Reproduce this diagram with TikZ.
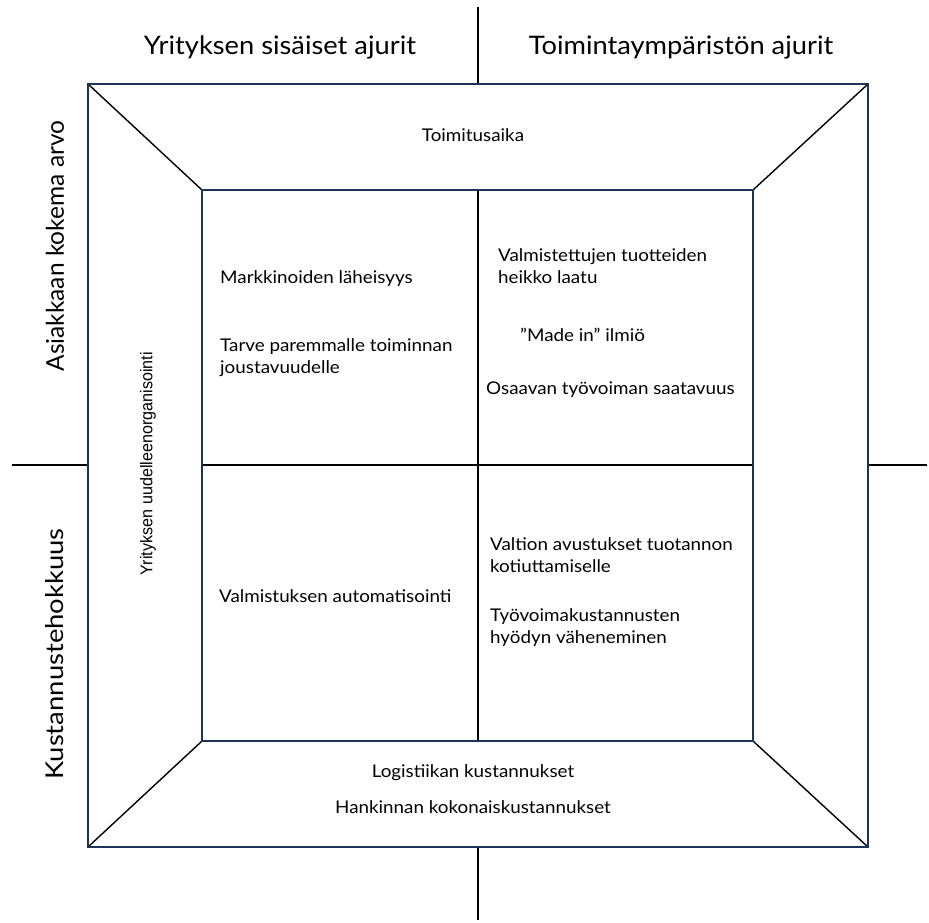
\documentclass[tikz,border=0pt]{standalone}
\usepackage{fontspec}
\setmainfont[FakeStretch=1.075]{Lato}
\newfontfamily\headfont[FakeStretch=1.07]{Lato}
\newfontfamily\plainfont{Lato}
\newfontfamily\widefont[FakeStretch=1.12]{Lato}
\newfontfamily\narrowfont[FakeStretch=0.95]{Liberation Sans}
\definecolor{navy}{HTML}{1F3358}
\tikzset{
  frame/.style={draw=navy, line width=1.6pt},
  axis/.style={draw=black, line width=1.6pt},
  diag/.style={draw=black, line width=1.4pt},
  bigtxt/.style={font=\headfont\fontsize{25.5}{30}\selectfont, inner sep=0pt},
  sidetxt/.style={inner sep=0pt, rotate=90},
  txt/.style={font=\fontsize{17.5}{21.5}\selectfont, inner sep=0pt, align=left},
  rottxt/.style={font=\narrowfont\fontsize{17}{20}\selectfont, inner sep=0pt, rotate=90},
}
\begin{document}
\begin{tikzpicture}[x=1pt,y=-1pt]
\useasboundingbox (0,0) rectangle (929,922);
% corners
\coordinate (OTL) at (88,84);
\coordinate (OTR) at (868,84);
\coordinate (OBL) at (88,847);
\coordinate (OBR) at (868,847);
\coordinate (ITL) at (202,190);
\coordinate (ITR) at (753,190);
\coordinate (IBL) at (202,741);
\coordinate (IBR) at (753,741);
% axis end points
\coordinate (VT0) at (478,7);
\coordinate (VT1) at (478,84);
\coordinate (VM0) at (478,190);
\coordinate (VM1) at (478,741);
\coordinate (VB0) at (478,847);
\coordinate (VB1) at (478,920);
\coordinate (HL0) at (12,465);
\coordinate (HL1) at (88,465);
\coordinate (HM0) at (202,465);
\coordinate (HM1) at (753,465);
\coordinate (HR0) at (868,465);
\coordinate (HR1) at (927,465);
% axes
\draw[axis] (VT0) -- (VT1);
\draw[axis] (VM0) -- (VM1);
\draw[axis] (VB0) -- (VB1);
\draw[axis] (HL0) -- (HL1);
\draw[axis] (HM0) -- (HM1);
\draw[axis] (HR0) -- (HR1);
% diagonals
\draw[diag] (OTL) -- (ITL);
\draw[diag] (OTR) -- (ITR);
\draw[diag] (OBL) -- (IBL);
\draw[diag] (OBR) -- (IBR);
% frames
\draw[frame] (OTL) rectangle (OBR);
\draw[frame] (ITL) rectangle (IBR);
% headings
\node[bigtxt, anchor=base] (h1) at (280,54) {Yrityksen sisäiset ajurit};
\node[bigtxt, anchor=base] (h2) at (681,54) {Toimintaympäristön ajurit};
\node[sidetxt, font=\plainfont\fontsize{24.5}{28}\selectfont] (v1) at (55,246) {Asiakkaan kokema arvo};
\node[sidetxt, font=\widefont\fontsize{24.5}{28}\selectfont] (v2) at (55,654) {Kustannustehokkuus};
\node[rottxt] (reorg) at (148,464) {Yrityksen uudelleenorganisointi};
% texts (multi-line nodes: base = baseline of last line)
\node[txt, anchor=base] (t1) at (473,141) {Toimitusaika};
\node[txt, anchor=base west] (t2) at (220,283) {Markkinoiden läheisyys};
\node[txt, anchor=base west] (t3) at (220,373) {Tarve paremmalle toiminnan\\joustavuudelle};
\node[txt, anchor=base west] (t4) at (498,283) {Valmistettujen tuotteiden\\heikko laatu};
\node[txt, anchor=base west] (t5) at (520,341) {”Made in” ilmiö};
\node[txt, anchor=base west] (t6) at (486,394) {Osaavan työvoiman saatavuus};
\node[txt, anchor=base west] (t7) at (490,572) {Valtion avustukset tuotannon\\kotiuttamiselle};
\node[txt, anchor=base west] (t8) at (490,643) {Työvoimakustannusten\\hyödyn väheneminen};
\node[txt, anchor=base west] (t9) at (219,602) {Valmistuksen automatisointi};
\node[txt, anchor=base] (t10) at (473,777) {Logistiikan kustannukset};
\node[txt, anchor=base] (t11) at (473,813) {Hankinnan kokonaiskustannukset};
\end{tikzpicture}
\end{document}
